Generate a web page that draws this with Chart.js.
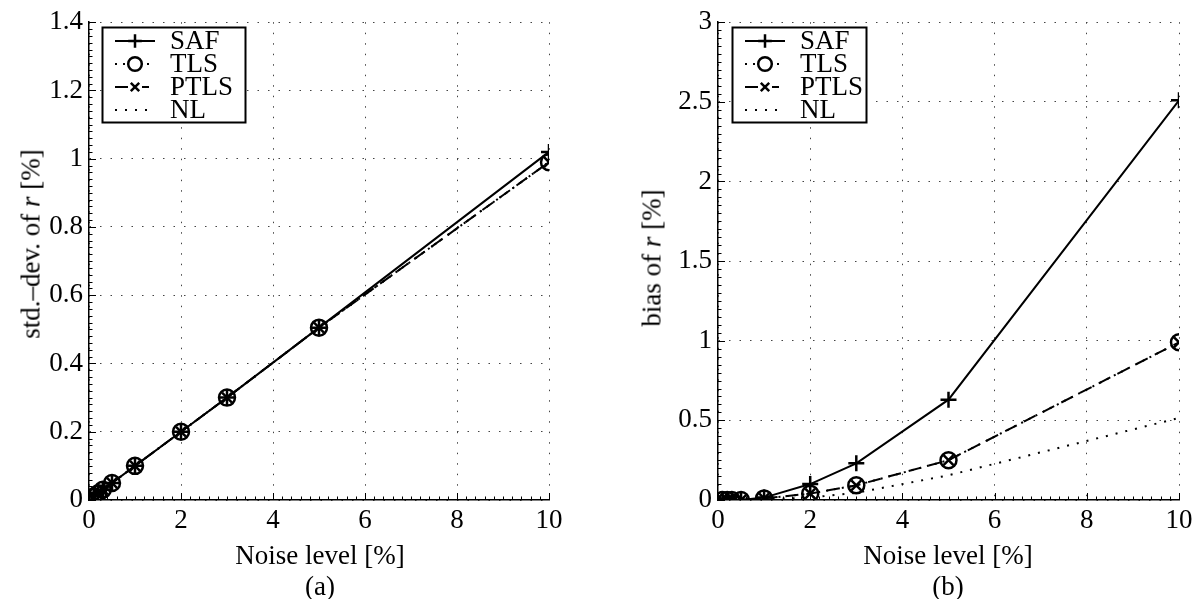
<!DOCTYPE html>
<html>
<head>
<meta charset="utf-8">
<script src="https://cdn.jsdelivr.net/npm/chart.js@4.4.1/dist/chart.umd.min.js"></script>
<style>
  body { margin: 0; background: #fff; width: 1203px; height: 599px; position: relative; overflow: hidden; font-family: "Liberation Serif", serif; }
  .panel { position: absolute; top: 0; height: 599px; }
  .lbl { position: absolute; font-size: 27px; color: #000; white-space: nowrap; line-height: 1; transform: translate(-50%, -50%); }
  .ylbl { transform: translate(-50%, -50%) rotate(-90deg); }
</style>
</head>
<body>
<div class="panel" style="left:0;width:600px"><canvas id="chartA" width="600" height="599"></canvas></div>
<div class="panel" style="left:600px;width:603px"><canvas id="chartB" width="603" height="599"></canvas></div>

<div class="lbl ylbl" style="left:31px;top:244px">std.–dev. of <i>r</i> [%]</div>
<div class="lbl" style="left:320px;top:555px">Noise level [%]</div>
<div class="lbl" style="left:320px;top:586px">(a)</div>

<div class="lbl ylbl" style="left:652px;top:258px">bias of <i>r</i> [%]</div>
<div class="lbl" style="left:948px;top:555px">Noise level [%]</div>
<div class="lbl" style="left:948px;top:586px">(b)</div>

<script>
// noise levels on the x axis (%)
const noise = [0.1, 0.2, 0.3, 0.5, 1, 2, 3, 5, 10];

// (a) standard deviation of r (%)
const stdSAF  = [0.01, 0.02, 0.03, 0.05, 0.1, 0.2, 0.3, 0.505, 1.02];
const stdTLS  = [0.01, 0.02, 0.03, 0.05, 0.1, 0.2, 0.3, 0.505, 0.99];
const stdPTLS = [0.01, 0.02, 0.03, 0.05, 0.1, 0.2, 0.3, 0.505, 0.99];
const stdNL   = [0.01, 0.02, 0.03, 0.05, 0.1, 0.2, 0.3, 0.505, 0.99];

// (b) bias of r (%)
const biasSAF  = [0, 0, 0, 0, 0.015, 0.1, 0.23, 0.63, 2.51];
const biasTLS  = [0, 0, 0, 0, 0.01, 0.04, 0.092, 0.25, 0.99];
const biasPTLS = [0, 0, 0, 0, 0.01, 0.04, 0.092, 0.25, 0.99];
const biasNL   = [0, 0, 0, 0, 0.004, 0.015, 0.045, 0.155, 0.515];

const xTicks = [0, 2, 4, 6, 8, 10];
const FONT = { family: "Liberation Serif", size: 27 };

function makeSets(saf, tls, ptls, nl) {
    const pts = ys => noise.map((x, i) => ({ x: x, y: ys[i] }));
    const base = { borderColor: '#000', borderWidth: 2, pointBorderColor: '#000',
                   pointBackgroundColor: 'rgba(0,0,0,0)', pointBorderWidth: 2.5, tension: 0 };
    return [
        { ...base, label: 'SAF',  data: pts(saf),  pointStyle: 'cross',    pointRadius: 8 },
        { ...base, label: 'TLS',  data: pts(tls),  pointStyle: 'circle',   pointRadius: 8, borderDash: [2, 6] },
        { ...base, label: 'PTLS', data: pts(ptls), pointStyle: 'crossRot', pointRadius: 7, borderDash: [13, 8] },
        { ...base, label: 'NL',   data: pts(nl),   pointRadius: 0, borderDash: [2, 8] }
    ];
}

function drawMarker(ctx, style, r, x, y) {
    ctx.beginPath();
    if (style === 'cross') {
        ctx.moveTo(x - r, y); ctx.lineTo(x + r, y);
        ctx.moveTo(x, y - r); ctx.lineTo(x, y + r);
    } else if (style === 'crossRot') {
        const d = r * Math.SQRT1_2;
        ctx.moveTo(x - d, y - d); ctx.lineTo(x + d, y + d);
        ctx.moveTo(x - d, y + d); ctx.lineTo(x + d, y - d);
    } else if (style === 'circle') {
        ctx.arc(x, y, r, 0, Math.PI * 2);
    }
    ctx.stroke();
}

// inward major/minor ticks + legend box inside the plot
const axisDecor = {
    id: 'axisDecor',
    afterDraw(chart, args, opts) {
        const { ctx, chartArea: a, scales: { x, y } } = chart;
        ctx.save();
        ctx.strokeStyle = '#000';
        ctx.lineWidth = 1;
        ctx.setLineDash([]);

        const xs = opts.xStep, ys = opts.yStep;
        const nx = Math.round((x.max - x.min) / xs * 10);
        for (let i = 0; i <= nx; i++) {
            const px = Math.round(x.getPixelForValue(x.min + i * xs / 10)) + 0.5;
            const len = i % 10 === 0 ? 7 : 3.5;
            ctx.beginPath(); ctx.moveTo(px, a.bottom); ctx.lineTo(px, a.bottom - len); ctx.stroke();
        }
        const ny = Math.round((y.max - y.min) / ys * 10);
        for (let i = 0; i <= ny; i++) {
            const py = Math.round(y.getPixelForValue(y.min + i * ys / 10)) + 0.5;
            const len = i % 10 === 0 ? 7 : 3.5;
            ctx.beginPath(); ctx.moveTo(a.left, py); ctx.lineTo(a.left + len, py); ctx.stroke();
        }

        // legend
        const L = opts.legend;
        ctx.fillStyle = '#fff';
        ctx.fillRect(L.x, L.y, L.w, L.h);
        ctx.lineWidth = 2;
        ctx.strokeRect(L.x + 0.5, L.y + 0.5, L.w, L.h);
        ctx.font = FONT.size + 'px ' + FONT.family;
        ctx.textBaseline = 'middle';
        ctx.fillStyle = '#000';
        chart.data.datasets.forEach((ds, i) => {
            const cy = L.y + 14 + i * 23;
            const x0 = L.x + 13, x1 = L.x + 53;
            ctx.lineWidth = 2;
            ctx.setLineDash(ds.borderDash || []);
            ctx.beginPath(); ctx.moveTo(x0, cy); ctx.lineTo(x1, cy); ctx.stroke();
            ctx.setLineDash([]);
            if (ds.pointRadius > 0) {
                ctx.fillStyle = '#fff';
                if (ds.pointStyle !== 'cross') ctx.fillRect((x0 + x1) / 2 - 7, cy - 7, 14, 14);
                ctx.fillStyle = '#000';
                ctx.lineWidth = 2.5;
                drawMarker(ctx, ds.pointStyle, ds.pointRadius * 0.85, (x0 + x1) / 2, cy);
            }
            ctx.fillText(ds.label, L.x + L.textX, cy + 1);
        });
        ctx.restore();
    }
};

function makeChart(id, sets, yMax, yStep, yWidth, rightPad, legend) {
    return new Chart(document.getElementById(id), {
        type: 'line',
        data: { datasets: sets },
        options: {
            responsive: false,
            animation: false,
            events: [],
            layout: { padding: { top: 13, right: rightPad, left: 0, bottom: 0 } },
            plugins: {
                legend: { display: false },
                tooltip: { enabled: false },
                axisDecor: { xStep: 2, yStep: yStep, legend: legend }
            },
            scales: {
                x: {
                    type: 'linear', min: 0, max: 10,
                    afterBuildTicks: s => { s.ticks = xTicks.map(v => ({ value: v })); },
                    ticks: { color: '#000', font: FONT, padding: 5, maxRotation: 0 },
                    grid: { color: '#444', lineWidth: 1, drawTicks: false },
                    border: { display: true, color: '#000', width: 1.5, dash: [1.5, 9] },
                    afterFit: s => { s.height = 99; }
                },
                y: {
                    type: 'linear', min: 0, max: yMax,
                    ticks: { stepSize: yStep, color: '#000', font: FONT, padding: 6,
                             callback: v => String(+v.toFixed(2)) },
                    grid: { color: '#444', lineWidth: 1, drawTicks: false },
                    border: { display: true, color: '#000', width: 1.5, dash: [1.5, 9] },
                    afterFit: s => { s.width = yWidth; }
                }
            }
        },
        plugins: [axisDecor]
    });
}

makeChart('chartA', makeSets(stdSAF, stdTLS, stdPTLS, stdNL), 1.4, 0.2, 89, 51,
          { x: 102, y: 27, w: 143, h: 95, textX: 68 });
makeChart('chartB', makeSets(biasSAF, biasTLS, biasPTLS, biasNL), 3, 0.5, 118, 24,
          { x: 132, y: 27, w: 134, h: 95, textX: 68 });
</script>
</body>
</html>
